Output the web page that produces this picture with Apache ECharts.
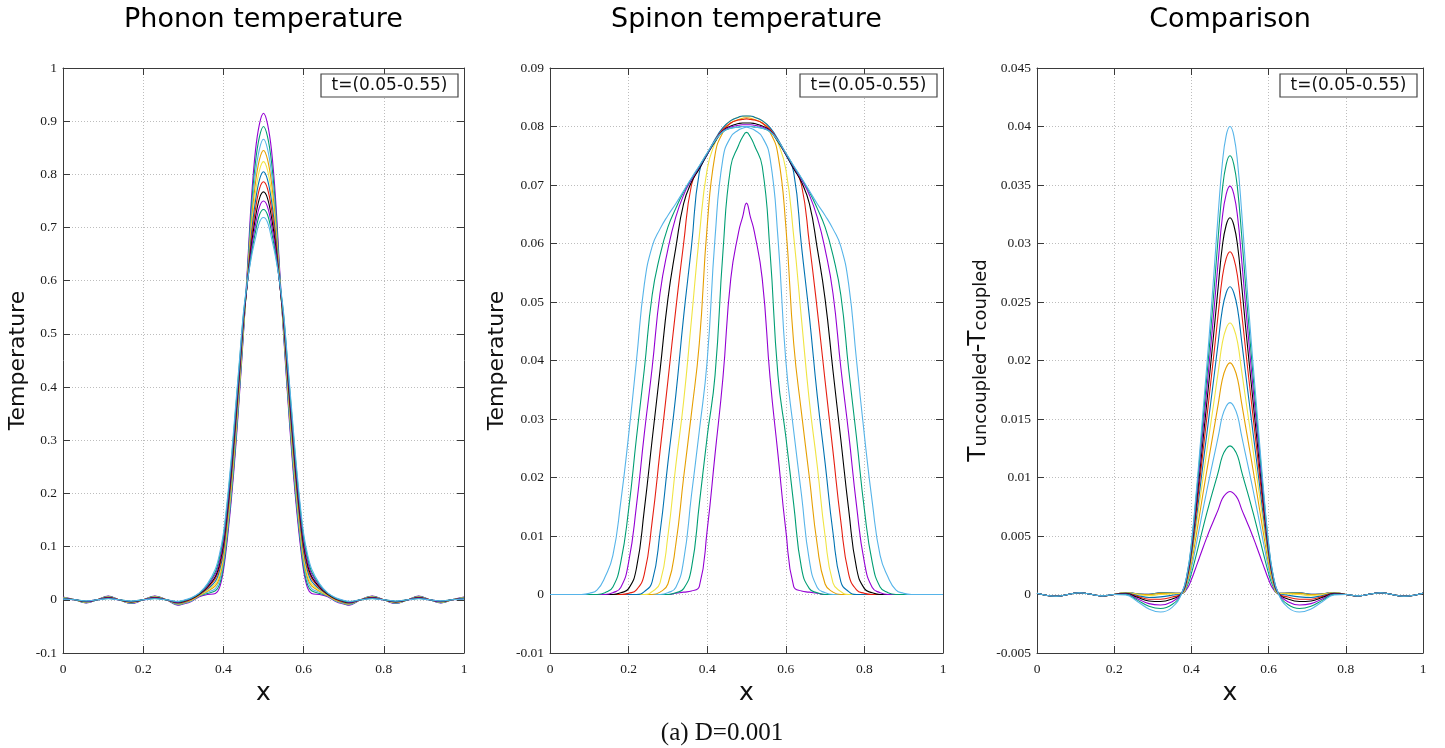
<!DOCTYPE html>
<html><head><meta charset="utf-8">
<script src="https://cdn.jsdelivr.net/npm/echarts/dist/echarts.min.js"></script>
<style>html,body{margin:0;padding:0;background:#fff}#c{width:1445px;height:748px}</style>
</head><body><div id="c"></div>
<script>
// time labels of the 11 curves in every panel
const tValues = ['0.05','0.10','0.15','0.20','0.25','0.30','0.35','0.40','0.45','0.50','0.55'];
const lineColors = ['#9400d3','#009e73','#56b4e9','#e69f00','#f0e442','#0072b2','#e51e10','#000000','#9400d3','#009e73','#56b4e9'];
const xTicks = [0, 0.2, 0.4, 0.6, 0.8, 1];

// ---------- Phonon temperature ----------
const phononX = [0,0.03,0.058,0.085,0.113,0.14,0.17,0.2,0.229,0.258,0.287,0.3,0.32,0.34,0.36,0.38,0.39,0.4,0.41,0.42,0.43,0.44,0.45,0.46,0.47,0.48,0.49,0.5,0.51,0.52,0.53,0.54,0.55,0.56,0.57,0.58,0.59,0.6,0.61,0.62,0.64,0.66,0.68,0.7,0.713,0.742,0.771,0.8,0.83,0.86,0.887,0.915,0.942,0.97,1];
const phonon_t005 = [0.005,0,-0.006,0,0.007,0,-0.007,0,0.007,0,-0.01,-0.008,-0.003,0.006,0.01,0.012,0.022,0.055,0.115,0.19,0.28,0.385,0.5,0.625,0.755,0.845,0.895,0.915,0.895,0.845,0.755,0.625,0.5,0.385,0.28,0.19,0.115,0.055,0.022,0.012,0.01,0.006,-0.003,-0.008,-0.01,0,0.007,0,-0.007,0,0.007,0,-0.006,0,0.005];
const phonon_t010 = [0.0047,0,-0.0056,0,0.0065,0,-0.0065,0,0.0065,0,-0.0093,-0.007,-0.002,0.007,0.012,0.017,0.028,0.062,0.123,0.198,0.288,0.392,0.504,0.617,0.739,0.823,0.871,0.89,0.871,0.823,0.739,0.617,0.504,0.392,0.288,0.198,0.123,0.062,0.028,0.017,0.012,0.007,-0.002,-0.007,-0.0093,0,0.0065,0,-0.0065,0,0.0065,0,-0.0056,0,0.0047];
const phonon_t015 = [0.0043,0,-0.0052,0,0.006,0,-0.006,0,0.006,0,-0.0086,-0.007,-0.002,0.007,0.014,0.021,0.035,0.069,0.13,0.206,0.296,0.398,0.508,0.61,0.723,0.802,0.848,0.866,0.848,0.802,0.723,0.61,0.508,0.398,0.296,0.206,0.13,0.069,0.035,0.021,0.014,0.007,-0.002,-0.007,-0.0086,0,0.006,0,-0.006,0,0.006,0,-0.0052,0,0.0043];
const phonon_t020 = [0.004,0,-0.0047,0,0.0055,0,-0.0055,0,0.0055,0,-0.0079,-0.006,-0.001,0.008,0.016,0.026,0.041,0.076,0.138,0.214,0.304,0.405,0.512,0.606,0.711,0.784,0.828,0.845,0.828,0.784,0.711,0.606,0.512,0.405,0.304,0.214,0.138,0.076,0.041,0.026,0.016,0.008,-0.001,-0.006,-0.0079,0,0.0055,0,-0.0055,0,0.0055,0,-0.0047,0,0.004];
const phonon_t025 = [0.0036,0,-0.0043,0,0.005,0,-0.005,0,0.005,0,-0.0072,-0.005,0,0.009,0.018,0.03,0.047,0.083,0.145,0.222,0.312,0.411,0.516,0.602,0.698,0.766,0.808,0.824,0.808,0.766,0.698,0.602,0.516,0.411,0.312,0.222,0.145,0.083,0.047,0.03,0.018,0.009,0,-0.005,-0.0072,0,0.005,0,-0.005,0,0.005,0,-0.0043,0,0.0036];
const phonon_t030 = [0.0033,0,-0.0039,0,0.0046,0,-0.0046,0,0.0046,0,-0.0065,-0.005,0.001,0.01,0.02,0.035,0.054,0.09,0.153,0.23,0.32,0.418,0.52,0.6,0.688,0.75,0.79,0.805,0.79,0.75,0.688,0.6,0.52,0.418,0.32,0.23,0.153,0.09,0.054,0.035,0.02,0.01,0.001,-0.005,-0.0065,0,0.0046,0,-0.0046,0,0.0046,0,-0.0039,0,0.0033];
const phonon_t035 = [0.0029,0,-0.0035,0,0.0041,0,-0.0041,0,0.0041,0,-0.0058,-0.004,0.001,0.01,0.022,0.04,0.06,0.097,0.16,0.238,0.328,0.424,0.524,0.599,0.678,0.735,0.773,0.786,0.773,0.735,0.678,0.599,0.524,0.424,0.328,0.238,0.16,0.097,0.06,0.04,0.022,0.01,0.001,-0.004,-0.0058,0,0.0041,0,-0.0041,0,0.0041,0,-0.0035,0,0.0029];
const phonon_t040 = [0.0026,0,-0.0031,0,0.0036,0,-0.0036,0,0.0036,0,-0.0051,-0.003,0.002,0.011,0.024,0.044,0.066,0.104,0.168,0.246,0.336,0.431,0.528,0.597,0.667,0.719,0.755,0.767,0.755,0.719,0.667,0.597,0.528,0.431,0.336,0.246,0.168,0.104,0.066,0.044,0.024,0.011,0.002,-0.003,-0.0051,0,0.0036,0,-0.0036,0,0.0036,0,-0.0031,0,0.0026];
const phonon_t045 = [0.0022,0,-0.0026,0,0.0031,0,-0.0031,0,0.0031,0,-0.0044,-0.002,0.003,0.012,0.026,0.049,0.072,0.111,0.175,0.254,0.344,0.437,0.532,0.597,0.659,0.705,0.739,0.75,0.739,0.705,0.659,0.597,0.532,0.437,0.344,0.254,0.175,0.111,0.072,0.049,0.026,0.012,0.003,-0.002,-0.0044,0,0.0031,0,-0.0031,0,0.0031,0,-0.0026,0,0.0022];
const phonon_t050 = [0.0019,0,-0.0022,0,0.0026,0,-0.0026,0,0.0026,0,-0.0037,-0.002,0.003,0.012,0.028,0.053,0.079,0.118,0.183,0.262,0.352,0.444,0.536,0.598,0.651,0.692,0.724,0.734,0.724,0.692,0.651,0.598,0.536,0.444,0.352,0.262,0.183,0.118,0.079,0.053,0.028,0.012,0.003,-0.002,-0.0037,0,0.0026,0,-0.0026,0,0.0026,0,-0.0022,0,0.0019];
const phonon_t055 = [0.0015,0,-0.0018,0,0.0021,0,-0.0021,0,0.0021,0,-0.003,-0.001,0.004,0.013,0.03,0.058,0.085,0.125,0.19,0.27,0.36,0.45,0.54,0.6,0.645,0.68,0.71,0.719,0.71,0.68,0.645,0.6,0.54,0.45,0.36,0.27,0.19,0.125,0.085,0.058,0.03,0.013,0.004,-0.001,-0.003,0,0.0021,0,-0.0021,0,0.0021,0,-0.0018,0,0.0015];

// ---------- Spinon temperature ----------
const spinonX = [0,0.05,0.08,0.1,0.12,0.14,0.16,0.18,0.2,0.22,0.24,0.26,0.28,0.3,0.32,0.34,0.36,0.38,0.4,0.42,0.44,0.46,0.48,0.49,0.5,0.51,0.52,0.54,0.56,0.58,0.6,0.62,0.64,0.66,0.68,0.7,0.72,0.74,0.76,0.78,0.8,0.82,0.84,0.86,0.88,0.9,0.92,0.95,1];
const spinon_t005 = [0,0,0,0,0,0,0,0,0,0,0,0,0,0,0.0002,0.0004,0.0006,0.0014,0.011,0.024,0.037,0.054,0.062,0.0645,0.0669,0.0645,0.062,0.054,0.037,0.024,0.011,0.0014,0.0006,0.0004,0.0002,0,0,0,0,0,0,0,0,0,0,0,0,0,0];
const spinon_t010 = [0,0,0,0,0,0,0,0,0,0,0,0,0,0,0.0003,0.001,0.0045,0.0155,0.027,0.0375,0.0585,0.0732,0.0768,0.0782,0.079,0.0782,0.0768,0.0732,0.0585,0.0375,0.027,0.0155,0.0045,0.001,0.0003,0,0,0,0,0,0,0,0,0,0,0,0,0,0];
const spinon_t015 = [0,0,0,0,0,0,0,0,0,0,0,0,0,0.0003,0.0012,0.0058,0.017,0.028,0.04,0.061,0.0745,0.0782,0.0794,0.0797,0.0799,0.0797,0.0794,0.0782,0.0745,0.061,0.04,0.028,0.017,0.0058,0.0012,0.0003,0,0,0,0,0,0,0,0,0,0,0,0,0];
const spinon_t020 = [0,0,0,0,0,0,0,0,0,0,0,0,0.0004,0.0018,0.0085,0.02,0.031,0.043,0.063,0.0752,0.079,0.0806,0.0812,0.0814,0.0815,0.0814,0.0812,0.0806,0.079,0.0752,0.063,0.043,0.031,0.02,0.0085,0.0018,0.0004,0,0,0,0,0,0,0,0,0,0,0,0];
const spinon_t025 = [0,0,0,0,0,0,0,0,0,0,0,0.0005,0.002,0.01,0.022,0.033,0.047,0.0613,0.0727,0.0772,0.0797,0.081,0.0816,0.0817,0.0818,0.0817,0.0816,0.081,0.0797,0.0772,0.0727,0.0613,0.047,0.033,0.022,0.01,0.002,0.0005,0,0,0,0,0,0,0,0,0,0,0];
const spinon_t030 = [0,0,0,0,0,0,0,0,0,0,0.0005,0.0022,0.0106,0.0225,0.034,0.0475,0.0595,0.0722,0.0752,0.0778,0.0798,0.081,0.0816,0.0818,0.0818,0.0818,0.0816,0.081,0.0798,0.0778,0.0752,0.0722,0.0595,0.0475,0.034,0.0225,0.0106,0.0022,0.0005,0,0,0,0,0,0,0,0,0,0];
const spinon_t035 = [0,0,0,0,0,0,0,0,0.0002,0.0008,0.0035,0.0125,0.0245,0.0365,0.0487,0.06,0.07,0.073,0.0754,0.0776,0.0795,0.0806,0.0811,0.0812,0.0813,0.0812,0.0811,0.0806,0.0795,0.0776,0.0754,0.073,0.07,0.06,0.0487,0.0365,0.0245,0.0125,0.0035,0.0008,0.0002,0,0,0,0,0,0,0,0];
const spinon_t040 = [0,0,0,0,0,0,0,0.0003,0.001,0.0045,0.0145,0.0265,0.0383,0.0505,0.0592,0.0668,0.0705,0.0728,0.0752,0.0774,0.0793,0.0801,0.0805,0.0806,0.0806,0.0806,0.0805,0.0801,0.0793,0.0774,0.0752,0.0728,0.0705,0.0668,0.0592,0.0505,0.0383,0.0265,0.0145,0.0045,0.001,0.0003,0,0,0,0,0,0,0];
const spinon_t045 = [0,0,0,0,0,0,0.0003,0.0012,0.0055,0.0152,0.0275,0.0388,0.0515,0.059,0.0645,0.0683,0.0709,0.0731,0.0753,0.0775,0.0792,0.0799,0.0802,0.0803,0.0803,0.0803,0.0802,0.0799,0.0792,0.0775,0.0753,0.0731,0.0709,0.0683,0.0645,0.059,0.0515,0.0388,0.0275,0.0152,0.0055,0.0012,0.0003,0,0,0,0,0,0];
const spinon_t050 = [0,0,0,0,0,0.0003,0.0013,0.0055,0.0145,0.0268,0.0385,0.0512,0.058,0.0628,0.066,0.0688,0.0711,0.0732,0.0754,0.0775,0.0791,0.0797,0.0799,0.08,0.08,0.08,0.0799,0.0797,0.0791,0.0775,0.0754,0.0732,0.0711,0.0688,0.066,0.0628,0.058,0.0512,0.0385,0.0268,0.0145,0.0055,0.0013,0.0003,0,0,0,0,0];
const spinon_t055 = [0,0,0,0.0002,0.0008,0.003,0.0067,0.0158,0.0272,0.04,0.053,0.0595,0.0625,0.0648,0.0668,0.069,0.0712,0.0733,0.0755,0.0776,0.0791,0.0797,0.0799,0.08,0.08,0.08,0.0799,0.0797,0.0791,0.0776,0.0755,0.0733,0.0712,0.069,0.0668,0.0648,0.0625,0.0595,0.053,0.04,0.0272,0.0158,0.0067,0.003,0.0008,0.0002,0,0,0];

// ---------- Comparison (T_uncoupled - T_coupled) ----------
const compX = [0,0.05,0.11,0.17,0.2,0.23,0.26,0.29,0.32,0.35,0.375,0.39,0.4,0.41,0.42,0.43,0.44,0.45,0.46,0.47,0.48,0.49,0.5,0.51,0.52,0.53,0.54,0.55,0.56,0.57,0.58,0.59,0.6,0.61,0.625,0.65,0.68,0.71,0.74,0.77,0.8,0.83,0.89,0.95,1];
const comp_t005 = [0.0001,-0.00015,0.00015,-0.00012,0,0.00017,0.00006,0.00001,0.00015,0.00012,0.0001,0.00057,0.00128,0.00216,0.00308,0.004,0.00488,0.00572,0.00651,0.0073,0.00818,0.00862,0.0088,0.00862,0.00818,0.0073,0.00651,0.00572,0.00488,0.004,0.00308,0.00216,0.00128,0.00057,0.0001,0.00012,0.00015,0.00001,0.00006,0.00017,0,-0.00012,0.00015,-0.00015,0.0001];
const comp_t010 = [0.0001,-0.00015,0.00015,-0.00012,0,0.00017,0.00006,0.00001,0.00015,0.00012,0.0001,0.00081,0.0018,0.00305,0.00437,0.0057,0.00697,0.00819,0.00935,0.01053,0.0118,0.01245,0.0127,0.01245,0.0118,0.01053,0.00935,0.00819,0.00697,0.0057,0.00437,0.00305,0.0018,0.00081,0.0001,0.00012,0.00015,0.00001,0.00006,0.00017,0,-0.00012,0.00015,-0.00015,0.0001];
const comp_t015 = [0.0001,-0.00015,0.00015,-0.00012,0,0.00016,0.00004,-0.00002,0.0001,0.0001,0.0001,0.00102,0.00226,0.00385,0.00554,0.00725,0.00889,0.01048,0.01202,0.01358,0.01522,0.01607,0.0164,0.01607,0.01522,0.01358,0.01202,0.01048,0.00889,0.00725,0.00554,0.00385,0.00226,0.00102,0.0001,0.0001,0.0001,-0.00002,0.00004,0.00016,0,-0.00012,0.00015,-0.00015,0.0001];
const comp_t020 = [0.0001,-0.00015,0.00015,-0.00012,0,0.00016,0.00004,-0.00002,0.0001,0.0001,0.0001,0.0012,0.00266,0.00455,0.00657,0.00862,0.0106,0.01254,0.01444,0.01638,0.01836,0.0194,0.0198,0.0194,0.01836,0.01638,0.01444,0.01254,0.0106,0.00862,0.00657,0.00455,0.00266,0.0012,0.0001,0.0001,0.0001,-0.00002,0.00004,0.00016,0,-0.00012,0.00015,-0.00015,0.0001];
const comp_t025 = [0.0001,-0.00015,0.00015,-0.00012,0,0.00015,0,-0.0001,0,0.00005,0.0001,0.00137,0.00304,0.00522,0.00756,0.00995,0.01227,0.01457,0.01684,0.01916,0.02148,0.02274,0.0232,0.02274,0.02148,0.01916,0.01684,0.01457,0.01227,0.00995,0.00756,0.00522,0.00304,0.00137,0.0001,0.00005,0,-0.0001,0,0.00015,0,-0.00012,0.00015,-0.00015,0.0001];
const comp_t030 = [0.0001,-0.00015,0.00015,-0.00012,0,0.00013,-0.00008,-0.00025,-0.0002,-0.00006,0.0001,0.00151,0.00335,0.00579,0.00842,0.01111,0.01374,0.01637,0.019,0.0217,0.02433,0.02577,0.0263,0.02577,0.02433,0.0217,0.019,0.01637,0.01374,0.01111,0.00842,0.00579,0.00335,0.00151,0.0001,-0.00006,-0.0002,-0.00025,-0.00008,0.00013,0,-0.00012,0.00015,-0.00015,0.0001];
const comp_t035 = [0.0001,-0.00015,0.00015,-0.00012,0,0.0001,-0.00016,-0.0004,-0.0004,-0.00022,0.0001,0.00164,0.00363,0.0063,0.0092,0.01219,0.01512,0.01808,0.02107,0.02414,0.02707,0.02871,0.0293,0.02871,0.02707,0.02414,0.02107,0.01808,0.01512,0.01219,0.0092,0.0063,0.00363,0.00164,0.0001,-0.00022,-0.0004,-0.0004,-0.00016,0.0001,0,-0.00012,0.00015,-0.00015,0.0001];
const comp_t040 = [0.0001,-0.00015,0.00015,-0.00012,0,0.00008,-0.00024,-0.00055,-0.0006,-0.00038,0.0001,0.00176,0.00388,0.00676,0.00992,0.01319,0.01641,0.01969,0.02304,0.0265,0.02972,0.03156,0.0322,0.03156,0.02972,0.0265,0.02304,0.01969,0.01641,0.01319,0.00992,0.00676,0.00388,0.00176,0.0001,-0.00038,-0.0006,-0.00055,-0.00024,0.00008,0,-0.00012,0.00015,-0.00015,0.0001];
const comp_t045 = [0.0001,-0.00015,0.00015,-0.00012,0,0.00004,-0.00036,-0.00078,-0.0009,-0.00062,0.0001,0.00185,0.00408,0.00716,0.01054,0.01407,0.01756,0.02115,0.02485,0.02869,0.03218,0.0342,0.0349,0.0342,0.03218,0.02869,0.02485,0.02115,0.01756,0.01407,0.01054,0.00716,0.00408,0.00185,0.0001,-0.00062,-0.0009,-0.00078,-0.00036,0.00004,0,-0.00012,0.00015,-0.00015,0.0001];
const comp_t050 = [0.0001,-0.00015,0.00015,-0.00012,0,0.00001,-0.00048,-0.001,-0.0012,-0.00086,0.0001,0.00193,0.00426,0.0075,0.0111,0.01487,0.01862,0.02252,0.02657,0.03079,0.03454,0.03675,0.0375,0.03675,0.03454,0.03079,0.02657,0.02252,0.01862,0.01487,0.0111,0.0075,0.00426,0.00193,0.0001,-0.00086,-0.0012,-0.001,-0.00048,0.00001,0,-0.00012,0.00015,-0.00015,0.0001];
const comp_t055 = [0.0001,-0.00015,0.00015,-0.00012,0,-0.00003,-0.0006,-0.00123,-0.0015,-0.0011,0.0001,0.002,0.0044,0.0078,0.0116,0.0156,0.0196,0.0238,0.0282,0.0328,0.0368,0.0392,0.04,0.0392,0.0368,0.0328,0.0282,0.0238,0.0196,0.0156,0.0116,0.0078,0.0044,0.002,0.0001,-0.0011,-0.0015,-0.00123,-0.0006,-0.00003,0,-0.00012,0.00015,-0.00015,0.0001];

const phononSeries = [phonon_t005,phonon_t010,phonon_t015,phonon_t020,phonon_t025,phonon_t030,phonon_t035,phonon_t040,phonon_t045,phonon_t050,phonon_t055];
const spinonSeries = [spinon_t005,spinon_t010,spinon_t015,spinon_t020,spinon_t025,spinon_t030,spinon_t035,spinon_t040,spinon_t045,spinon_t050,spinon_t055];
const compSeries = [comp_t005,comp_t010,comp_t015,comp_t020,comp_t025,comp_t030,comp_t035,comp_t040,comp_t045,comp_t050,comp_t055];

// y axis ranges (min, max, step)
const phononY = [-0.1, 1, 0.1];
const spinonY = [-0.01, 0.09, 0.01];
const compY = [-0.005, 0.045, 0.005];

const AX = '#3a3a3a';
const SANS = 'DejaVu Sans';
const SERIF = 'Liberation Serif';
const fmt = v => String(parseFloat(Number(v).toFixed(4)));

const grids = [
  {left: 63, top: 68, width: 401, height: 585},
  {left: 550, top: 68, width: 393, height: 585},
  {left: 1037, top: 68, width: 386, height: 585}
];
const smoothness = [0.35, 0.5, 0.45];

function xAxesFor(gi) {
  const common = {gridIndex: gi, type: 'value', min: 0, max: 1, interval: 0.2};
  return [
    Object.assign({}, common, {
      position: 'bottom',
      axisLine: {show: true, onZero: false, lineStyle: {color: AX, width: 1}},
      axisTick: {show: true, inside: true, length: 7, lineStyle: {color: AX}},
      axisLabel: {show: true, margin: 9, color: '#1a1a1a', fontFamily: SERIF, fontSize: 13.5, formatter: fmt, showMinLabel: true, showMaxLabel: true},
      splitLine: {show: true, lineStyle: {color: '#bdbdbd', type: [1, 2], width: 1}},
      name: 'x', nameLocation: 'middle', nameGap: 22,
      nameTextStyle: {fontFamily: SANS, fontSize: 25, color: '#111'}
    }),
    Object.assign({}, common, {
      position: 'top',
      axisLine: {show: true, onZero: false, lineStyle: {color: AX, width: 1}},
      axisTick: {show: true, inside: true, length: 7, lineStyle: {color: AX}},
      axisLabel: {show: false}, splitLine: {show: false}
    })
  ];
}
function yAxesFor(gi, rng, name, gap, rich) {
  const common = {gridIndex: gi, type: 'value', min: rng[0], max: rng[1], interval: rng[2]};
  const nts = {fontFamily: SANS, fontSize: 22, color: '#111'};
  if (rich) nts.rich = rich;
  return [
    Object.assign({}, common, {
      position: 'left',
      axisLine: {show: true, onZero: false, lineStyle: {color: AX, width: 1}},
      axisTick: {show: true, inside: true, length: 7, lineStyle: {color: AX}},
      axisLabel: {show: true, margin: 6, color: '#1a1a1a', fontFamily: SERIF, fontSize: 13.5, formatter: fmt, showMinLabel: true, showMaxLabel: true},
      splitLine: {show: true, lineStyle: {color: '#bdbdbd', type: [1, 2], width: 1}},
      name: name, nameLocation: 'middle', nameRotate: 90, nameGap: gap,
      nameTextStyle: nts
    }),
    Object.assign({}, common, {
      position: 'right',
      axisLine: {show: true, onZero: false, lineStyle: {color: AX, width: 1}},
      axisTick: {show: true, inside: true, length: 7, lineStyle: {color: AX}},
      axisLabel: {show: false}, splitLine: {show: false}
    })
  ];
}

const xAxis = [].concat(xAxesFor(0), xAxesFor(1), xAxesFor(2));
const yAxis = [].concat(
  yAxesFor(0, phononY, 'Temperature', 34),
  yAxesFor(1, spinonY, 'Temperature', 42),
  yAxesFor(2, compY, '{a|T}{b|uncoupled}{a|-T}{b|coupled}', 40, {
    a: {fontFamily: SANS, fontSize: 25, color: '#111', padding: [0, 0, 6, 0]},
    b: {fontFamily: SANS, fontSize: 18, color: '#111'}
  })
);

const series = [];
[[phononX, phononSeries], [spinonX, spinonSeries], [compX, compSeries]].forEach(([xs, list], gi) => {
  list.forEach((ys, k) => {
    series.push({
      type: 'line', name: 't=' + tValues[k], xAxisIndex: gi * 2, yAxisIndex: gi * 2,
      data: xs.map((x, i) => [x, ys[i]]),
      showSymbol: false, smooth: smoothness[gi], clip: true,
      lineStyle: {color: lineColors[k], width: 1.1}, itemStyle: {color: lineColors[k]},
      emphasis: {disabled: true}, z: 2 + k
    });
  });
});

function legendBox(x) {
  return [
    {type: 'rect', z: 50, shape: {x: x, y: 74, width: 137, height: 23}, style: {fill: '#fff', stroke: '#444', lineWidth: 1.2}},
    {type: 'text', z: 51, x: x + 68.5, y: 86, style: {text: 't=(0.05-0.55)', font: '17px "DejaVu Sans"', fill: '#111', align: 'center', verticalAlign: 'middle', textAlign: 'center', textVerticalAlign: 'middle'}}
  ];
}
function titleText(x, text) {
  return {type: 'text', z: 50, x: x, y: 20, style: {text: text, font: '27px "DejaVu Sans"', fill: '#000', align: 'center', verticalAlign: 'middle', textAlign: 'center', textVerticalAlign: 'middle'}};
}

const chart = echarts.init(document.getElementById('c'), null, {renderer: 'canvas'});
chart.setOption({
  backgroundColor: '#fff',
  animation: false,
  grid: grids.map(g => Object.assign({containLabel: false, outerBoundsMode: 'none'}, g)),
  xAxis: xAxis,
  yAxis: yAxis,
  series: series,
  graphic: [].concat(
    [titleText(263.5, 'Phonon temperature'), titleText(746.5, 'Spinon temperature'), titleText(1230, 'Comparison')],
    legendBox(321), legendBox(800), legendBox(1280),
    [{type: 'text', z: 50, x: 722, y: 733, style: {text: '(a) D=0.001', font: '25px "Liberation Serif"', fill: '#111', align: 'center', verticalAlign: 'middle', textAlign: 'center', textVerticalAlign: 'middle'}}]
  )
});
</script>
</body></html>
